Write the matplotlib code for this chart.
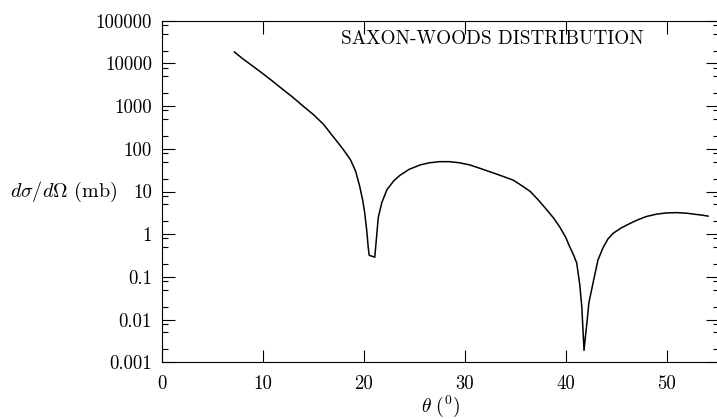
import numpy as np
import matplotlib
matplotlib.use('Agg')
import matplotlib.pyplot as plt
from matplotlib.ticker import FixedLocator

plt.rcParams['font.family'] = 'cmr10'
plt.rcParams['mathtext.fontset'] = 'cm'
plt.rcParams['axes.formatter.use_mathtext'] = True

# values
theta = [7.2, 8, 9, 10, 11, 12, 13, 14, 15, 16, 17, 17.5, 18, 18.7, 19.2, 19.6,
         19.9, 20.1, 20.3, 20.45, 20.55, 21.1, 21.45, 21.8, 22.3, 23, 23.6, 24.5,
         25.6, 26.5, 27.5, 28.5, 29.5, 30.5, 31.5, 32.5, 33.5, 34.8, 35.6, 36.5,
         37.3, 38.1, 38.8, 39.4, 40.0, 40.4, 40.8, 41.1, 41.4, 41.6, 41.82, 42.0,
         42.1, 42.3, 42.6, 43.2, 43.7, 44.2, 44.7, 45.5, 46.4, 47.2, 48.0, 49.0,
         50.0, 51.0, 52.0, 52.7, 53.5, 54.1]
sigma = [18500, 13000, 8700, 5800, 3800, 2450, 1600, 1000, 640, 380, 190, 135, 95,
         55, 30, 13.5, 6.3, 3.2, 1.25, 0.5, 0.32, 0.29, 2.5, 5.5, 11, 18, 24, 33,
         42, 47, 50, 50, 47, 42, 35, 29, 24, 18.5, 14, 10, 6.3, 3.8, 2.4, 1.5,
         0.85, 0.51, 0.32, 0.21, 0.065, 0.02, 0.0019, 0.005, 0.008, 0.025, 0.054,
         0.25, 0.48, 0.78, 1.05, 1.4, 1.8, 2.2, 2.6, 2.95, 3.15, 3.2, 3.1, 2.95,
         2.8, 2.65]

yticks = [1e-3, 1e-2, 1e-1, 1, 10, 100, 1000, 10000, 100000]
ylabels = ['0.001', '0.01', '0.1', '1', '10', '100', '1000', '10000', '100000']
xticks = [0, 10, 20, 30, 40, 50]

fig = plt.figure(figsize=(7.17, 4.19), dpi=100)
ax = fig.add_axes([0.2255, 0.1353, 0.7775, 0.8153])

ax.plot(theta, sigma, color='black', lw=1.1)

ax.set_yscale('log')
ax.set_ylim(1e-3, 1e5)
ax.set_xlim(0, 55.2)
ax.set_yticks(yticks, labels=ylabels)
minor = [m * 10.0**e for e in range(-3, 5) for m in (2, 5, 8)]
ax.yaxis.set_minor_locator(FixedLocator(minor))
ax.yaxis.set_minor_formatter(plt.NullFormatter())
ax.set_xticks(xticks, labels=[str(t) for t in xticks])

ax.tick_params(which='both', direction='in', top=True, right=True,
               labelsize=13.5, width=0.8)
ax.tick_params(axis='y', which='major', length=9.5, pad=7)
ax.tick_params(axis='y', which='minor', length=4.5)
ax.tick_params(axis='x', which='major', length=9, pad=9)
for s in ax.spines.values():
    s.set_linewidth(0.8)

ax.set_xlabel(r'$\theta\ (^0)$', fontsize=14, labelpad=1)
ax.text(-0.272, 0.5, r'$d\sigma/d\Omega$ (mb)', transform=ax.transAxes,
        fontsize=14.5, ha='left', va='center')
ax.text(0.594, 0.946, 'SAXON-WOODS DISTRIBUTION', transform=ax.transAxes,
        fontsize=13.8, ha='center', va='center')

plt.savefig('out.png', dpi=100)
